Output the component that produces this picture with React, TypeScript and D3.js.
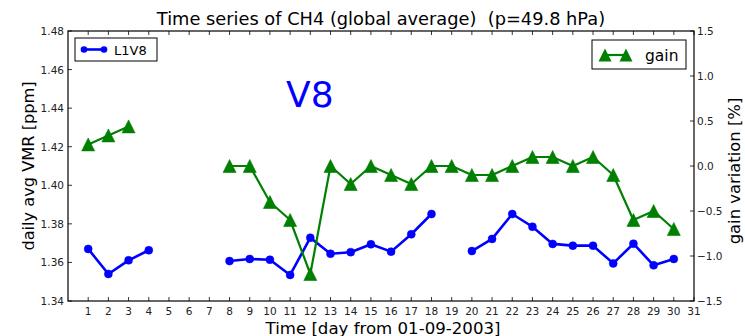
import React from "react";
import * as d3 from "d3";

// Days of September 2003 and the retrieved values (null = no data that day)
const days: number[] = d3.range(1, 31);
const vmr: (number | null)[] = [
  1.367, 1.354, 1.3611, 1.3663, null, null, null, 1.3607, 1.3618, 1.3614,
  1.3535, 1.3728, 1.3645, 1.3653, 1.3694, 1.3656, 1.3746, 1.3851, null, 1.3659,
  1.3722, 1.3851, 1.3785, 1.3696, 1.3687, 1.3687, 1.3595, 1.3697, 1.3585, 1.3618,
];
const gain: (number | null)[] = [
  0.24, 0.34, 0.44, null, null, null, null, 0.0, 0.0, -0.4,
  -0.6, -1.2, 0.0, -0.2, 0.0, -0.1, -0.2, 0.0, 0.0, -0.1,
  -0.1, 0.0, 0.1, 0.1, 0.0, 0.1, -0.1, -0.6, -0.5, -0.7,
];
const xTicks: number[] = d3.range(1, 32);
const leftTicks: number[] = [1.34, 1.36, 1.38, 1.4, 1.42, 1.44, 1.46, 1.48];
const rightTicks: number[] = [-1.5, -1.0, -0.5, 0.0, 0.5, 1.0, 1.5];

const W = 745;
const H = 336;
const M = { left: 68, right: 694, top: 31, bottom: 301 };
const FONT = "'DejaVu Sans', sans-serif";
const BLUE = "#0000ff";
const GREEN = "#008000";

export default function App() {
  const x = d3.scaleLinear().domain([0, 31]).range([M.left, M.right]);
  const yL = d3.scaleLinear().domain([1.34, 1.48]).range([M.bottom, M.top]);
  const yR = d3.scaleLinear().domain([-1.5, 1.5]).range([M.bottom, M.top]);

  const vmrPts = days.map((d, i) => ({ d, v: vmr[i] }));
  const gainPts = days.map((d, i) => ({ d, v: gain[i] }));

  const lineL = d3
    .line<{ d: number; v: number | null }>()
    .defined((p) => p.v !== null)
    .x((p) => x(p.d))
    .y((p) => yL(p.v as number));
  const lineR = d3
    .line<{ d: number; v: number | null }>()
    .defined((p) => p.v !== null)
    .x((p) => x(p.d))
    .y((p) => yR(p.v as number));

  const tri = (cx: number, cy: number, s: number) =>
    `M${cx},${cy - s} L${cx - s},${cy + s} L${cx + s},${cy + s} Z`;

  const tickLen = 4;
  const plotW = M.right - M.left;
  const plotH = M.bottom - M.top;

  return (
    <svg
      width={W}
      height={H}
      style={{ position: "absolute", left: 0, top: 0, background: "#fff" }}
      fontFamily={FONT}
    >
      {/* title */}
      <text
        x={(M.left + M.right) / 2}
        y={25}
        textAnchor="middle"
        fontSize={17.8}
        fill="#000"
        style={{ whiteSpace: "pre" }}
      >
        {"Time series of CH4 (global average)  (p=49.8 hPa)"}
      </text>

      {/* x ticks: bottom and top, pointing inward */}
      {xTicks.map((t) => (
        <g key={"x" + t}>
          <line x1={x(t)} x2={x(t)} y1={M.bottom} y2={M.bottom - tickLen} stroke="#000" strokeWidth={0.8} />
          <line x1={x(t)} x2={x(t)} y1={M.top} y2={M.top + tickLen} stroke="#000" strokeWidth={0.8} />
          <text x={x(t)} y={M.bottom + 13.5} textAnchor="middle" fontSize={10.5} fill="#222">
            {t}
          </text>
        </g>
      ))}

      {/* left axis */}
      {leftTicks.map((t) => (
        <g key={"l" + t}>
          <line x1={M.left} x2={M.left + tickLen} y1={yL(t)} y2={yL(t)} stroke="#000" strokeWidth={0.8} />
          <text x={M.left - 4} y={yL(t) + 4} textAnchor="end" fontSize={10.5} fill="#222">
            {t.toFixed(2)}
          </text>
        </g>
      ))}

      {/* right axis */}
      {rightTicks.map((t) => (
        <g key={"r" + t}>
          <line x1={M.right} x2={M.right - tickLen} y1={yR(t)} y2={yR(t)} stroke="#000" strokeWidth={0.8} />
          <text x={M.right + 3} y={yR(t) + 4} textAnchor="start" fontSize={10.5} fill="#222">
            {t < 0 ? "\u2212" + Math.abs(t).toFixed(1) : t.toFixed(1)}
          </text>
        </g>
      ))}

      {/* axis labels */}
      <text
        x={(M.left + M.right) / 2 + 2}
        y={333.5}
        textAnchor="middle"
        fontSize={16.6}
        fill="#000"
      >
        Time [day from 01-09-2003]
      </text>
      <text
        transform={`translate(34,${(M.top + M.bottom) / 2}) rotate(-90)`}
        textAnchor="middle"
        fontSize={16.2}
        fill="#000"
      >
        daily avg VMR [ppm]
      </text>
      <text
        transform={`translate(740,${(M.top + M.bottom) / 2 + 5}) rotate(-90)`}
        textAnchor="middle"
        fontSize={16.4}
        fill="#000"
      >
        gain variation [%]
      </text>

      {/* annotation */}
      <text x={286} y={107} fontSize={36} fill={BLUE}>
        V8
      </text>

      {/* L1V8 series */}
      <path d={lineL(vmrPts) || ""} fill="none" stroke={BLUE} strokeWidth={2.6} strokeLinejoin="round" />
      {vmrPts
        .filter((p) => p.v !== null)
        .map((p) => (
          <circle key={"b" + p.d} cx={x(p.d)} cy={yL(p.v as number)} r={4} fill={BLUE} stroke={BLUE} strokeWidth={0.5} />
        ))}

      {/* gain series */}
      <path d={lineR(gainPts) || ""} fill="none" stroke={GREEN} strokeWidth={2.2} strokeLinejoin="round" />
      {gainPts
        .filter((p) => p.v !== null)
        .map((p) => (
          <path key={"g" + p.d} d={tri(x(p.d), yR(p.v as number), 6.5)} fill={GREEN} stroke={GREEN} strokeWidth={0.6} />
        ))}

      {/* frame */}
      <rect x={M.left} y={M.top} width={plotW} height={plotH} fill="none" stroke="#000" strokeWidth={1.2} />

      {/* legend: L1V8 */}
      <rect x={75} y={38} width={82} height={23} fill="#fff" stroke="#000" strokeWidth={1} />
      <line x1={84} x2={104} y1={49.5} y2={49.5} stroke={BLUE} strokeWidth={2.6} />
      <circle cx={84} cy={49.5} r={3.3} fill={BLUE} />
      <circle cx={104} cy={49.5} r={3.3} fill={BLUE} />
      <text x={114} y={54.5} fontSize={13} fill="#000">
        L1V8
      </text>

      {/* legend: gain */}
      <rect x={592} y={40} width={94} height={29} fill="#fff" stroke="#000" strokeWidth={1} />
      <line x1={605} x2={626} y1={55} y2={55} stroke={GREEN} strokeWidth={2.2} />
      <path d={tri(605, 55, 6.5)} fill={GREEN} />
      <path d={tri(626, 55, 6.5)} fill={GREEN} />
      <text x={645} y={60.5} fontSize={15.5} fill="#000">
        gain
      </text>
    </svg>
  );
}
